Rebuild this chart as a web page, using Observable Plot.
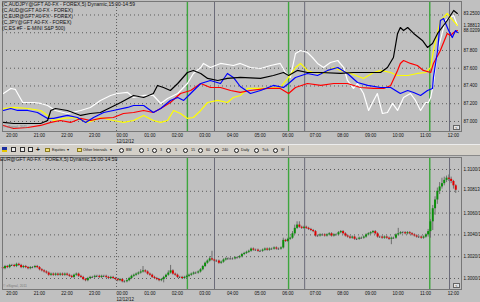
<!DOCTYPE html>
<html><head><meta charset="utf-8">
<script src="https://cdn.jsdelivr.net/npm/d3@7"></script>
<script src="https://cdn.jsdelivr.net/npm/@observablehq/plot@0.6"></script>
<style>
html,body{margin:0;padding:0;background:#c0c0c0;}
#root{position:relative;width:480px;height:302px;overflow:hidden;background:#c0c0c0;font-family:"Liberation Sans",Arial,sans-serif;}
#top{position:absolute;left:0;top:0;}
#bot{position:absolute;left:0;top:156px;}
.leg{position:absolute;left:2px;top:1px;font-size:5px;line-height:6px;color:#111;white-space:pre;}
.btitle{position:absolute;left:0px;top:156px;font-size:5px;line-height:6px;color:#111;white-space:pre;}
.copy{position:absolute;left:3px;font-size:3.4px;color:#7a7a7a;white-space:pre;}
.scr{position:absolute;left:453px;width:7px;height:5px;background:#e6e6e6;border:0.6px solid #666;box-sizing:border-box;font-size:4px;line-height:4px;text-align:center;color:#333;}
#tb{position:absolute;left:0;top:144px;width:480px;height:12px;background:#d4d0c8;border-top:1px solid #ececec;border-bottom:1px solid #8a8a8a;box-sizing:border-box;}
#tb .t{position:absolute;top:0;line-height:10px;font-size:3.7px;color:#111;white-space:pre;}
#tb .ic{position:absolute;top:2px;width:5px;height:5px;box-sizing:border-box;}
#tb .flag{background:linear-gradient(#1c2fa0 60%,#e8c800 60%);}
#tb .box{border:0.8px solid #333;background:#eee;}
#tb .fold{background:#f2e27a;border:0.6px solid #8a7a20;height:4px;top:3px;}
#tb .clk{position:absolute;top:2.5px;width:5px;height:5px;border:0.7px solid #222;border-radius:50%;box-sizing:border-box;background:#eee;}
#tb .sep{position:absolute;top:1px;width:1px;height:9px;background:#8a8a8a;}
</style>
</head><body>
<div id="root">
  <div id="top"></div>
  <div id="bot"></div>
  <div id="legend" class="leg"></div>
  <div id="btitle" class="btitle"></div>
  <div class="copy" style="top:125px">© eSignal, 2011</div>
  <div class="copy" style="top:284px">© eSignal, 2011</div>
  <div class="scr" style="top:125px">&lt;</div>
  <div class="scr" style="top:283px">&lt;</div>
  <div id="tb">
    <span class="ic flag" style="left:2px"></span>
    <span class="ic box" style="left:11px"></span>
    <span class="ic box" style="left:20px"></span>
    <span class="ic box" style="left:28px"></span>
    <span class="t" style="left:36px;font-weight:bold;font-size:6.5px">+</span>
    <span class="ic fold" style="left:45px"></span>
    <span class="t" style="left:52px">Equities</span>
    <span class="t" style="left:67px">▾</span>
    <span class="ic fold" style="left:77px"></span>
    <span class="t" style="left:83px">Other Intervals</span>
    <span class="t" style="left:110px">▾</span>
    <span class="clk" style="left:119px"></span><span class="t" style="left:126px">BM</span>
    <span class="clk" style="left:139px"></span><span class="t" style="left:147px">1</span>
    <span class="clk" style="left:152px"></span><span class="t" style="left:160px">3</span>
    <span class="clk" style="left:166px"></span><span class="t" style="left:175px">5</span>
    <span class="clk" style="left:183px"></span><span class="t" style="left:191px">15</span>
    <span class="clk" style="left:198px"></span><span class="t" style="left:206px">60</span>
    <span class="clk" style="left:214px"></span><span class="t" style="left:222px">240</span>
    <span class="clk" style="left:234px"></span><span class="t" style="left:241px">Daily</span>
    <span class="clk" style="left:254px"></span><span class="t" style="left:262px">Tick</span>
    <span class="clk" style="left:273px"></span><span class="t" style="left:281px">W</span>
    <span class="sep" style="left:288px"></span>
  </div>
</div>
<script>
// ---------- DATA ----------
const legendLines = [
  "(C,AUDJPY@GFT A0-FX - FOREX,5) Dynamic,15:00-14:59",
  "(C,AUD@GFT A0-FX - FOREX)",
  "(C,EUR@GFT A0-FX - FOREX)",
  "(C,JPY@GFT A0-FX - FOREX)",
  "(C,ES #F - E-MINI S&P 500)"
];
const bottomTitle = "EUR@GFT A0-FX - FOREX,5) Dynamic,15:00-14:59";

const hourLabels = ["20:00","21:00","22:00","23:00","00:00","01:00","02:00","03:00","04:00","05:00","06:00","07:00","08:00","09:00","10:00","11:00","12:00"];
const dayStart = "00:00";
const dayLabel = "12/12/12";
const xRange = ["19:52","12:30"];

const greenLines = ["02:34","06:14","11:21"];
const grayLines  = ["03:33","06:49","12:04"];

// top panel (AUDJPY price scale)
const topRange = [86.887, 88.352];
const topGrid = [87.0, 87.2, 87.4, 87.6, 87.8, 88.0, 88.2];
const topTickLabels = [87.0, 87.2, 87.4, 87.6, 87.8];
const topLastText = ["83.2500", "1.38813", "88.02090"];
const topLastAt   = [88.217, 88.082, 88.025];

const seriesWhite = [["19:54",87.315],["20:10",87.372],["20:20",87.361],["20:36",87.214],["21:00",87.214],["21:15",87.203],["21:30",87.180],["21:47",87.124],["22:13",87.090],["22:42",87.124],["23:03",87.158],["23:25",87.237],["23:47",87.293],["00:02",87.315],["00:24",87.327],["00:37",87.270],["00:59",87.293],["01:20",87.293],["01:36",87.203],["01:51",87.259],["02:13",87.315],["02:34",87.428],["02:47",87.541],["03:03",87.608],["03:09",87.654],["03:24",87.608],["03:46",87.654],["04:14",87.631],["04:29",87.654],["04:51",87.608],["05:13",87.597],["05:35",87.631],["05:56",87.654],["06:07",87.552],["06:18",87.496],["06:29",87.766],["06:40",87.800],["06:55",87.777],["07:06",87.721],["07:17",87.654],["07:30",87.608],["07:45",87.665],["08:01",87.687],["08:14",87.608],["08:22",87.462],["08:35",87.372],["08:44",87.428],["08:57",87.315],["09:08",87.124],["09:19",87.237],["09:27",87.315],["09:38",87.090],["09:49",87.101],["10:00",87.203],["10:11",87.124],["10:24",87.270],["10:39",87.315],["10:50",87.237],["11:01",87.124],["11:12",87.214],["11:18",87.214],["11:23",87.270],["11:29",87.428],["11:38",87.800],["11:44",87.913],["11:55",88.138],["12:02",88.161],["12:13",88.194],["12:21",88.082]];

const seriesYellow = [["19:54",87.146],["20:16",87.158],["20:47",87.146],["21:15",87.124],["21:30",87.068],["21:43",87.011],["22:05",87.034],["22:27",87.045],["22:57",86.989],["23:10",87.011],["23:25",87.045],["23:53",87.011],["00:15",86.989],["00:37",87.011],["00:59",87.068],["01:20",87.011],["01:36",86.989],["01:51",87.011],["02:04",87.124],["02:19",87.090],["02:34",87.034],["02:47",87.045],["03:03",87.124],["03:18",87.214],["03:40",87.237],["04:01",87.214],["04:14",87.270],["04:29",87.293],["04:45",87.372],["05:13",87.372],["05:56",87.383],["06:14",87.496],["06:29",87.608],["06:40",87.654],["06:55",87.575],["07:08",87.552],["07:30",87.541],["07:52",87.608],["08:07",87.575],["08:29",87.541],["08:57",87.485],["09:19",87.552],["09:34",87.575],["09:56",87.552],["10:11",87.518],["10:33",87.518],["10:54",87.541],["11:12",87.552],["11:23",87.608],["11:29",87.800],["11:44",88.138],["11:51",88.172],["11:59",88.217],["12:06",88.172],["12:21",88.082]];

const seriesRed = [["19:54",86.955],["20:16",86.921],["20:47",86.932],["21:15",86.955],["21:37",86.989],["21:58",87.011],["22:20",86.989],["22:42",87.034],["23:03",87.011],["23:25",87.034],["23:53",87.045],["00:15",87.090],["00:37",87.101],["00:59",87.124],["01:20",87.101],["01:36",87.146],["01:57",87.214],["02:19",87.315],["02:41",87.349],["03:03",87.428],["03:24",87.383],["03:46",87.383],["04:08",87.349],["04:29",87.327],["04:51",87.349],["05:28",87.372],["05:56",87.372],["06:14",87.315],["06:29",87.383],["06:55",87.428],["07:24",87.406],["07:52",87.428],["08:22",87.428],["08:50",87.383],["09:19",87.372],["09:41",87.372],["09:56",87.406],["10:11",87.575],["10:17",87.654],["10:24",87.687],["10:39",87.654],["10:54",87.631],["11:07",87.575],["11:23",87.552],["11:29",87.654],["11:44",87.800],["11:59",87.992],["12:06",87.969],["12:13",88.003],["12:21",88.025]];

const seriesBlue = [["19:54",87.124],["20:10",87.146],["20:25",87.124],["20:47",87.124],["21:08",87.101],["21:30",87.034],["21:43",87.034],["22:13",87.068],["22:35",87.045],["22:53",86.989],["23:10",87.045],["23:32",87.101],["23:53",87.124],["00:24",87.158],["00:37",87.180],["00:59",87.180],["01:20",87.101],["01:36",87.146],["01:57",87.237],["02:13",87.270],["02:26",87.237],["02:41",87.315],["03:03",87.428],["03:24",87.462],["03:46",87.428],["04:01",87.541],["04:14",87.496],["04:29",87.394],["04:51",87.315],["05:13",87.349],["05:41",87.406],["06:03",87.383],["06:14",87.428],["06:29",87.496],["06:55",87.541],["07:17",87.518],["07:39",87.575],["08:01",87.608],["08:22",87.541],["08:44",87.439],["09:06",87.406],["09:34",87.383],["09:56",87.383],["10:17",87.315],["10:33",87.349],["10:46",87.327],["11:01",87.293],["11:16",87.349],["11:27",87.372],["11:29",87.496],["11:38",87.800],["11:44",88.138],["11:51",88.161],["12:02",88.025],["12:10",87.946],["12:17",88.025],["12:21",88.003]];

const seriesBlack = [["19:54",86.989],["20:16",86.977],["20:47",86.977],["21:15",86.977],["21:30",87.011],["21:37",87.124],["21:47",87.146],["22:13",87.124],["22:42",87.068],["23:03",87.090],["23:25",87.101],["23:47",87.158],["00:09",87.214],["00:37",87.293],["00:59",87.270],["01:20",87.315],["01:29",87.406],["01:42",87.383],["01:57",87.349],["02:13",87.428],["02:34",87.552],["02:47",87.575],["03:03",87.541],["03:18",87.485],["03:40",87.462],["04:01",87.485],["04:29",87.496],["05:13",87.485],["05:41",87.518],["06:03",87.552],["06:14",87.518],["06:33",87.575],["06:55",87.552],["07:24",87.552],["08:07",87.541],["08:35",87.552],["09:06",87.552],["09:34",87.552],["09:49",87.608],["10:02",87.721],["10:11",87.992],["10:17",88.059],["10:24",88.025],["10:33",88.059],["10:46",87.992],["11:05",87.913],["11:16",87.834],["11:27",87.879],["11:38",87.992],["11:59",88.138],["12:13",88.251],["12:21",88.217]];

// bottom panel: EUR 5-minute candles starting 19:50
const eurFirstBar = "19:50";
const eurOpen0 = 1.3010;
const eurClose = [
1.3009,1.3011,1.3010,1.3012,
1.3012,1.3011,1.3013,1.3012,1.3010,1.3011,1.3010,1.3009,1.3010,1.3010,1.3011,1.3010,
1.3008,1.3007,1.3006,1.3005,1.3003,1.3004,1.3003,1.3004,1.3003,1.3004,1.3003,1.3004,
1.3003,1.3002,1.3001,1.3003,1.3004,1.3002,1.3001,1.2999,1.2998,1.3000,1.3001,1.3001,
1.3002,1.3002,1.3001,1.3002,1.3002,1.3001,1.3000,1.3001,1.3000,1.2999,1.2998,1.2999,
1.2997,1.2997,1.2998,1.3000,1.3002,1.3003,1.3004,1.3005,1.3006,1.3007,1.3006,1.3004,
1.3003,1.3001,1.3000,1.2999,1.2998,1.2999,1.3001,1.3003,1.3005,1.3007,1.3004,1.3003,
1.3001,1.3001,1.3000,1.3001,1.3002,1.3003,1.3004,1.3005,1.3005,1.3006,1.3008,1.3011,
1.3014,1.3016,1.3018,1.3017,1.3016,1.3016,1.3014,1.3015,1.3017,1.3018,1.3018,1.3018,
1.3018,1.3019,1.3019,1.3020,1.3022,1.3023,1.3024,1.3025,1.3027,1.3026,1.3026,1.3025,
1.3025,1.3026,1.3027,1.3026,1.3027,1.3027,1.3028,1.3027,1.3027,1.3028,1.3035,1.3034,
1.3036,1.3037,1.3041,1.3046,1.3049,1.3047,1.3046,1.3047,1.3046,1.3045,1.3044,1.3043,
1.3039,1.3039,1.3040,1.3040,1.3039,1.3040,1.3041,1.3039,1.3040,1.3040,1.3042,1.3043,
1.3041,1.3039,1.3038,1.3037,1.3038,1.3036,1.3036,1.3037,1.3037,1.3038,1.3040,1.3041,
1.3042,1.3043,1.3041,1.3038,1.3038,1.3037,1.3038,1.3037,1.3036,1.3037,1.3037,1.3040,
1.3041,1.3042,1.3042,1.3041,1.3042,1.3041,1.3040,1.3039,1.3038,1.3038,1.3037,1.3038,
1.3040,1.3043,1.3052,1.3064,1.3072,1.3080,1.3084,1.3087,1.3090,1.3092,1.3091,1.3089,1.3085,1.3081];
// wick extension beyond the body, in pips
const eurWickHi = [
1,1,1,1,
1,1,1,1,1,1,1,1,1,1,1,1,
1,1,1,1,1,1,1,1,1,1,1,1,
1,1,1,1,1,1,1,1,1,1,1,1,
1,1,1,1,1,1,1,1,1,1,1,1,
1,1,1,1,1,1,1,1,2,4,1,1,
1,1,1,1,1,1,1,1,2,5,1,1,
1,1,1,1,1,1,1,1,1,1,1,1,
1,1,2,7,1,1,1,1,1,1,1,1,
1,1,1,1,1,1,1,1,1,1,1,1,
1,1,1,1,1,1,1,1,1,1,2,1,
1,1,2,3,3,3,1,1,1,1,1,1,
1,1,1,1,1,1,1,1,1,1,1,1,
1,1,1,1,1,1,1,1,1,1,1,1,
1,1,1,1,1,1,1,1,1,1,1,1,
5,1,1,1,1,1,1,1,1,1,1,1,
1,2,2,3,3,3,4,5,3,2,3,2,1,1];
const eurWickLo = [
1,1,1,1,
1,1,1,1,1,1,1,1,1,1,1,1,
1,1,1,1,1,1,1,1,1,1,1,1,
1,1,1,1,1,1,1,1,1,1,1,1,
1,1,1,1,1,1,1,1,1,1,1,1,
1,1,1,1,1,1,1,1,1,1,1,1,
1,1,1,1,1,1,3,1,1,1,1,1,
1,1,1,1,1,1,1,1,1,1,1,1,
1,1,1,1,1,1,1,1,1,1,1,1,
1,1,1,1,1,1,1,1,1,1,1,1,
1,1,1,1,1,1,1,1,1,1,1,1,
1,1,1,1,1,1,1,1,1,1,1,1,
1,1,1,1,1,1,1,1,1,1,1,1,
1,1,1,1,1,1,1,1,1,1,1,1,
1,1,1,1,1,1,1,1,1,5,1,1,
1,1,1,1,1,1,1,1,1,1,1,1,
1,2,6,8,6,4,3,2,2,2,2,2,3,3];

const botRange = [1.29899, 1.31110];
const botGrid = [1.300, 1.302, 1.304, 1.306, 1.308, 1.310];
const botTickLabels = [1.300, 1.302, 1.304, 1.306, 1.310];
const botLastText = ["1.30813"];
const botLastAt = [1.30813];

// ---------- BUILD ----------
document.getElementById("legend").textContent = legendLines.join("\n");
document.getElementById("btitle").textContent = bottomTitle;

function parseT(s) {
  const [h, m] = s.split(":").map(Number);
  return new Date(Date.UTC(2012, 11, h >= 15 ? 11 : 12, h, m));
}
const xDomain = xRange.map(parseT);
const hourTicks = hourLabels.map(parseT);
const midnight = parseT(dayStart);
const fmtH = d3.utcFormat("%H:%M");

const toRows = arr => arr.map(([t, v]) => ({t: parseT(t), v}));
const lineSets = [
  [seriesWhite, "#ffffff"],
  [seriesYellow, "#ffff00"],
  [seriesRed, "#ff0000"],
  [seriesBlue, "#0000ff"],
  [seriesBlack, "#000000"]
];

const common = {
  width: 480,
  marginLeft: 2, marginRight: 19, marginTop: 1, marginBottom: 13,
  style: {background: "transparent", fontFamily: "'Liberation Sans', Arial, sans-serif", fontSize: "4.5px", color: "#111"},
  x: {type: "utc", domain: xDomain}
};

function decor() {
  return [
    Plot.gridX([midnight], {stroke: "#5c5c5c", strokeOpacity: 1, strokeDasharray: "1,2"}),
    Plot.ruleX(greenLines.map(parseT), {stroke: "#3da63d", strokeWidth: 1.4}),
    Plot.ruleX(grayLines.map(parseT), {stroke: "#6a6a78", strokeWidth: 1})
  ];
}
function xAxes() {
  return [
    Plot.axisX(hourTicks, {tickSize: 0, tickPadding: 2, tickFormat: fmtH, textAnchor: "start", label: null, fill: "#111"}),
    Plot.axisX([midnight], {tickSize: 0, tickPadding: 8, tickFormat: () => dayLabel, textAnchor: "start", label: null, fill: "#111"})
  ];
}

const topLastMap = new Map(topLastAt.map((v, i) => [v, topLastText[i]]));
const topPlot = Plot.plot({
  ...common,
  height: 144,
  y: {domain: topRange},
  marks: [
    Plot.gridY(topGrid, {stroke: "#5c5c5c", strokeOpacity: 1, strokeDasharray: "1,3"}),
    ...decor(),
    ...lineSets.map(([arr, c]) => Plot.line(toRows(arr), {x: "t", y: "v", stroke: c, strokeWidth: 1.2})),
    Plot.frame({stroke: "#777"}),
    ...xAxes(),
    Plot.axisY(topTickLabels, {anchor: "right", tickSize: 0, tickPadding: 2, tickFormat: d3.format(".3f"), label: null, fill: "#111"}),
    Plot.axisY(topLastAt, {anchor: "right", tickSize: 0, tickPadding: 2, tickFormat: d => topLastMap.get(d), label: null, fill: "#111"})
  ]
});
document.getElementById("top").appendChild(topPlot);

const t0 = parseT(eurFirstBar);
const BAR = 5 * 60000;
const candles = eurClose.map((c, i) => {
  const o = i ? eurClose[i - 1] : eurOpen0;
  return {
    t: new Date(+t0 + i * BAR + BAR / 2), o, c,
    h: Math.max(o, c) + eurWickHi[i] / 10000,
    l: Math.min(o, c) - eurWickLo[i] / 10000
  };
});
const dojis = candles.filter(d => d.o === d.c);
const botLastMap = new Map(botLastAt.map((v, i) => [v, botLastText[i]]));

const botPlot = Plot.plot({
  ...common,
  height: 146,
  y: {domain: botRange},
  marks: [
    Plot.gridY(botGrid, {stroke: "#5c5c5c", strokeOpacity: 1, strokeDasharray: "1,3"}),
    ...decor(),
    Plot.ruleX(candles, {x: "t", y1: "l", y2: "h", stroke: "#6e6e6e", strokeWidth: 1}),
    Plot.ruleX(candles.filter(d => d.o !== d.c), {x: "t", y1: "o", y2: "c", stroke: d => d.c > d.o ? "#0b8f0b" : "#e00000", strokeWidth: 2}),
    Plot.ruleY(dojis, {x1: d => new Date(+d.t - 65000), x2: d => new Date(+d.t + 65000), y: "c", stroke: "#333", strokeWidth: 1}),
    Plot.frame({stroke: "#777"}),
    ...xAxes(),
    Plot.axisY(botTickLabels, {anchor: "right", tickSize: 0, tickPadding: 2, tickFormat: d => d.toFixed(4) + "/13", label: null, fill: "#111"}),
    Plot.axisY(botLastAt, {anchor: "right", tickSize: 0, tickPadding: 2, tickFormat: d => botLastMap.get(d), label: null, fill: "#111"})
  ]
});
document.getElementById("bot").appendChild(botPlot);
</script>
</body></html>
